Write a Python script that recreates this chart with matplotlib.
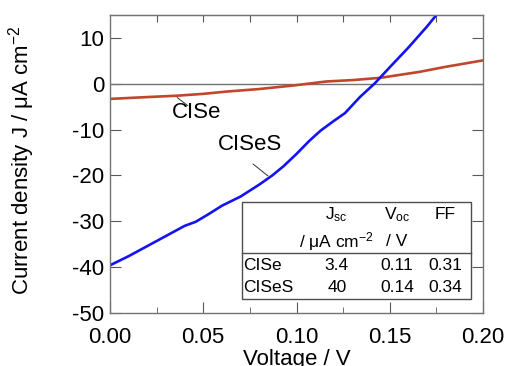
import matplotlib
matplotlib.use("Agg")
import matplotlib.pyplot as plt
from matplotlib.patches import Rectangle

plt.rcParams['font.family'] = ['Liberation Sans', 'DejaVu Sans']
plt.rcParams['mathtext.fontset'] = 'custom'
plt.rcParams['mathtext.rm'] = 'Liberation Sans'
plt.rcParams['mathtext.it'] = 'Liberation Sans:italic'
plt.rcParams['axes.unicode_minus'] = False

# CISe J-V curve
v_cise = [0, 0.02, 0.036, 0.05, 0.0625, 0.08, 0.1, 0.116, 0.13, 0.145, 0.166, 0.18, 0.2]
j_cise = [-3.3, -2.9, -2.6, -2.2, -1.7, -1.15, -0.3, 0.5, 0.8, 1.3, 2.6, 3.7, 5.1]

# CISeS J-V curve
v_ciss = [0, 0.010, 0.020, 0.030, 0.040, 0.046, 0.053, 0.060, 0.070, 0.080, 0.087, 0.093,
          0.100, 0.107, 0.113, 0.119, 0.126, 0.134, 0.142, 0.150, 0.160, 0.170, 0.175]
j_ciss = [-39.6, -37.6, -35.4, -33.2, -31.0, -30.1, -28.4, -26.6, -24.6, -22.0, -20.0, -18.0,
          -15.3, -12.4, -10.2, -8.4, -6.4, -2.9, 0.1, 3.6, 7.9, 12.5, 15]

# table values
samples = ['CISe', 'CISeS']
jsc = ['3.4', '40']
voc = ['0.11', '0.14']
ff = ['0.31', '0.34']

fig = plt.figure(figsize=(5.08, 3.66), dpi=100)
ax = fig.add_axes([110/508, 53/366, 373/508, 298/366])

ax.axhline(0, color='0.45', lw=1)
ax.plot(v_cise, j_cise, color='#C0462C', lw=1.9)
ax.plot(v_ciss, j_ciss, color='#1414F0', lw=1.9)

ax.set_xlim(0, 0.2)
ax.set_ylim(-50, 15)
ax.set_xticks([0, 0.05, 0.10, 0.15, 0.20])
ax.set_xticklabels(['0.00', '0.05', '0.10', '0.15', '0.20'])
ax.set_xticks([0.025, 0.075, 0.125, 0.175], minor=True)
ax.set_yticks(range(-50, 11, 10))
ax.tick_params(which='both', direction='in', labelsize=16, right=True, color='0.35', pad=4)
ax.tick_params(axis='x', which='both', pad=10)
ax.tick_params(which='major', length=8)
ax.tick_params(which='minor', length=4)
for s in ax.spines.values():
    s.set_color('0.45')
    s.set_linewidth(1)

sec = ax.secondary_xaxis('top')
sec.set_xticks([0.025 * i for i in range(1, 8)])
sec.tick_params(direction='in', length=5, labeltop=False, color='0.35')
sec.spines['top'].set_color('0.45')

ax.set_xlabel('Voltage / V', fontsize=16)
ax.xaxis.set_label_coords(0.5, -0.122)
ax.set_ylabel('Current density J / μA cm$^{-2}$', fontsize=16)
ax.yaxis.set_label_coords(-0.195, 0.513)

# curve labels
ax.annotate('', xy=(0.036, -3.0), xytext=(0.0418, -4.8),
            arrowprops=dict(arrowstyle='-', color='0.2', lw=0.7, shrinkA=0, shrinkB=0))
ax.text(0.0466, -6.3, 'CISe', fontsize=16, ha='center', va='center')
ax.annotate('', xy=(0.0847, -20.1), xytext=(0.0767, -17.5),
            arrowprops=dict(arrowstyle='-', color='0.2', lw=0.7, shrinkA=0, shrinkB=0))
ax.text(0.075, -13.3, 'CISeS', fontsize=16, ha='center', va='center')

# parameter table
ax.add_patch(Rectangle((0.353, 0.046), 0.614, 0.3275, transform=ax.transAxes,
                       facecolor='white', edgecolor='0.3', lw=1, zorder=3))
ax.plot([0.353, 0.967], [0.2003, 0.2003], transform=ax.transAxes, color='0.3', lw=1, zorder=4)
tk = dict(transform=ax.transAxes, fontsize=12.5, va='center', zorder=5)
ax.text(0.608, 0.329, 'J$_{\\rm sc}$', ha='center', **tk)
ax.text(0.769, 0.329, 'V$_{\\rm oc}$', ha='center', **tk)
ax.text(0.898, 0.329, 'FF', ha='center', **tk)
ax.text(0.608, 0.239, '/ μA cm$^{-2}$', ha='center', **tk)
ax.text(0.769, 0.239, '/ V', ha='center', **tk)
rows_y = [0.158, 0.087]
for i in range(len(samples)):
    ax.text(0.357, rows_y[i], samples[i], ha='left', **tk)
    ax.text(0.608, rows_y[i], jsc[i], ha='center', **tk)
    ax.text(0.769, rows_y[i], voc[i], ha='center', **tk)
    ax.text(0.898, rows_y[i], ff[i], ha='center', **tk)

fig.savefig('out.png', dpi=100)
